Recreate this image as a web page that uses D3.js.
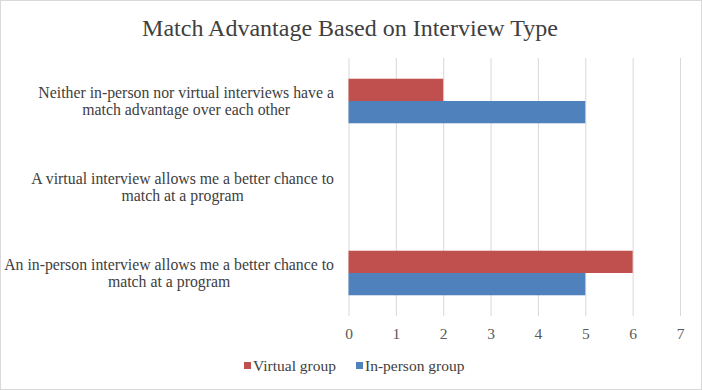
<!DOCTYPE html>
<html>
<head>
<meta charset="utf-8">
<script src="https://cdn.jsdelivr.net/npm/d3@7"></script>
<style>
    body { margin: 0; background: #fff; }
    text { font-family: "Liberation Serif", "DejaVu Serif", serif; }
</style>
</head>
<body>
<div id="chart"></div>
<script>
// Chart data
const categories = [
    "Neither in-person nor virtual interviews have a|match advantage over each other",
    "A virtual interview allows me a better chance to|match at a program",
    "An in-person interview allows me a better chance to|match at a program",
];
const seriesNames = ["Virtual group", "In-person group"];
const virtualValues = [2, 0, 6];
const inPersonValues = [5, 0, 5];
const xTicks = [0, 1, 2, 3, 4, 5, 6, 7];
const colors = ["#c0504d", "#4f81bd"];

const width = 702,
    height = 390,
    margin = { top: 58, right: 22, bottom: 74, left: 348.5 };

const svg = d3
    .select("#chart")
    .append("svg")
    .attr("width", width)
    .attr("height", height);

// Outer frame
svg.append("rect")
    .attr("x", 0.5)
    .attr("y", 0.5)
    .attr("width", width - 1)
    .attr("height", height - 1)
    .attr("fill", "#fff")
    .attr("stroke", "#d9d9d9");

// Title
svg.append("text")
    .attr("x", 350)
    .attr("y", 36)
    .attr("text-anchor", "middle")
    .attr("fill", "#404040")
    .style("font-size", "24px")
    .text("Match Advantage Based on Interview Type");

let x = d3
    .scaleLinear()
    .domain([0, 7])
    .range([margin.left, 680]);

let y = d3
    .scaleBand()
    .domain(categories)
    .range([margin.top, height - margin.bottom])
    .paddingInner(0.482)
    .paddingOuter(0.241);

let ySub = d3
    .scaleBand()
    .domain(seriesNames)
    .range([0, y.bandwidth()]);

// Gridlines + tick labels
svg.append("g")
    .attr("transform", `translate(0,${height - margin.bottom})`)
    .attr("class", "x-axis")
    .call(
        d3.axisBottom(x)
            .tickValues(xTicks)
            .tickFormat(d3.format("d"))
            .tickSize(-(height - margin.top - margin.bottom))
            .tickPadding(12)
    )
    .call((g) => g.select(".domain").remove())
    .call((g) => g.selectAll("line").attr("stroke", "#d9d9d9"))
    .call((g) =>
        g.selectAll("text")
            .attr("fill", "#595959")
            .style("font-size", "15.5px")
    );

// Bars
const rows = categories.map((c, i) => ({
    category: c,
    values: [virtualValues[i], inPersonValues[i]],
}));

svg.append("g")
    .selectAll("g")
    .data(rows)
    .join("g")
    .attr("transform", (d) => `translate(0,${y(d.category)})`)
    .selectAll("rect")
    .data((d) => d.values.map((v, j) => ({ series: seriesNames[j], value: v, j })))
    .join("rect")
    .attr("x", x(0))
    .attr("y", (d) => ySub(d.series))
    .attr("width", (d) => x(d.value) - x(0))
    .attr("height", ySub.bandwidth())
    .attr("fill", (d) => colors[d.j]);

// Category labels (lines centered inside a right-aligned block)
const labelRight = 334;
categories.forEach((c) => {
    const lines = c.split("|");
    const g = svg.append("g");
    const cy = y(c) + y.bandwidth() / 2;
    const texts = lines.map((line, k) =>
        g.append("text")
            .attr("y", cy + (k - (lines.length - 1) / 2) * 17.5)
            .attr("dy", "0.35em")
            .attr("text-anchor", "middle")
            .attr("fill", "#404040")
            .style("font-size", "15.8px")
            .text(line)
    );
    const maxW = d3.max(texts, (t) => t.node().getComputedTextLength());
    texts.forEach((t) => t.attr("x", labelRight - maxW / 2));
});

// Legend
const legendX = [244, 356];
const legend = svg.append("g");
seriesNames.forEach((s, i) => {
    legend.append("rect")
        .attr("x", legendX[i])
        .attr("y", 362)
        .attr("width", 7)
        .attr("height", 7)
        .attr("fill", colors[i]);
    legend.append("text")
        .attr("x", legendX[i] + 9)
        .attr("y", 366)
        .attr("dy", "0.35em")
        .attr("fill", "#404040")
        .style("font-size", "15.5px")
        .text(s);
});
</script>
</body>
</html>
